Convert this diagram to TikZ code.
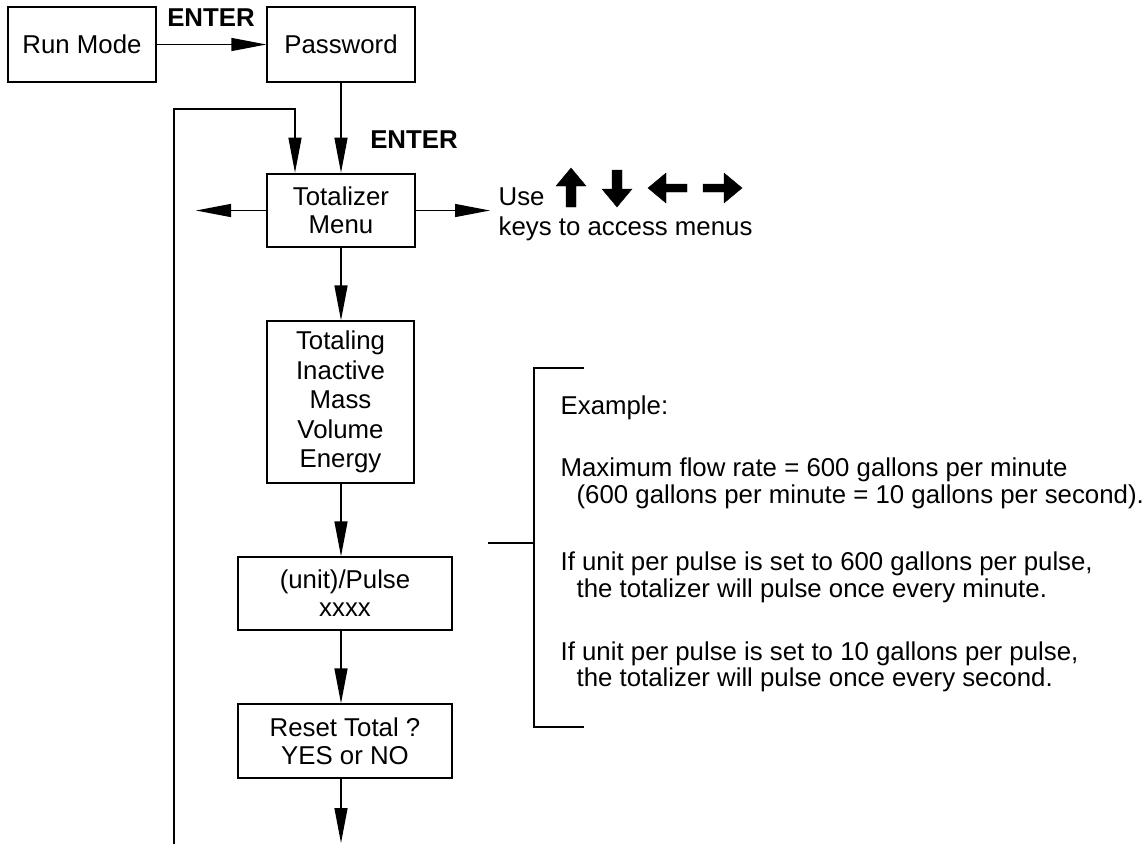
\documentclass[tikz,border=0pt]{standalone}
\usepackage{fontspec}
\setmainfont{Liberation Sans}
\usetikzlibrary{arrows.meta}
\newcommand{\fs}{\fontsize{25.8}{28}\selectfont}
\begin{document}
\begin{tikzpicture}[x=1pt,y=-1pt,line width=1.3pt,
  box/.style={draw,inner sep=0pt,align=center,font=\fs},
  lbl/.style={inner sep=0pt,font=\fs},
  boldlbl/.style={inner sep=0pt,font=\bfseries\fs},
  txt/.style={inner sep=0pt,anchor=base west,font=\fs},
  arr/.style={-{Triangle[length=35pt,width=13pt]}},
  keyarrow/.style={fill=black,draw=black,line width=0.4pt}]
\useasboundingbox (0,0) rectangle (1146,844);

% boxes
\node[box,minimum width=148pt,minimum height=75pt] (run) at (82,44.5) {Run Mode};
\node[box,minimum width=148pt,minimum height=75pt] (pw) at (341,44.5) {Password};
\node[box,line width=2.6pt,minimum width=148pt,minimum height=73pt] (tot) at (341,210.5) {Totalizer\\Menu};
\node[box,minimum width=147pt,minimum height=162pt,font=\fontsize{25.8}{29.5}\selectfont] (mode) at (340.5,402) {Totaling\\Inactive\\Mass\\Volume\\Energy};
\node[box,minimum width=214pt,minimum height=73pt] (unit) at (345,593.5) {(unit)/Pulse\\xxxx};
\node[box,minimum width=214pt,minimum height=74pt] (reset) at (345,741) {Reset Total ?\\YES or NO};

% labels
\node[boldlbl] (e1) at (211,17.5) {ENTER};
\node[boldlbl] (e2) at (414,140) {ENTER};
\node[txt] (use) at (498,205) {Use};
\node[txt] (keys) at (498,235) {keys to access menus};

% free ends
\coordinate (lft) at (196,210.5);
\coordinate (rgt) at (490,210.5);
\coordinate (loopbot) at (174,844);
\coordinate (looptop) at (174,109);
\coordinate (loopin) at (295,109);
\coordinate (endtip) at (341,843);

% connectors
\draw[arr] (run) -- (pw);
\draw[arr] (pw.south) -- (tot.north);
\draw[arr] (loopbot) -- (looptop) -- (loopin) -- (loopin |- tot.north);
\draw[arr] (tot.west) -- (lft);
\draw[arr] (tot.east) -- (rgt);
\draw[arr] (tot.south) -- (tot.south |- mode.north);
\draw[arr] (tot.south |- mode.south) -- (tot.south |- unit.north);
\draw[arr] (tot.south |- unit.south) -- (tot.south |- reset.north);
\draw[arr] (tot.south |- reset.south) -- (endtip);

% key arrows
\filldraw[keyarrow] (571,168) -- (586,186) -- (576,186) -- (576,207) -- (566,207) -- (566,186) -- (556,186) -- cycle;
\filldraw[keyarrow] (617,207) -- (632,189) -- (622,189) -- (622,170) -- (612,170) -- (612,189) -- (602,189) -- cycle;
\filldraw[keyarrow] (648,188) -- (666,173) -- (666,184) -- (687,184) -- (687,192) -- (666,192) -- (666,203) -- cycle;
\filldraw[keyarrow] (742,188) -- (724,173) -- (724,184) -- (703,184) -- (703,192) -- (724,192) -- (724,203) -- cycle;

% bracket
\draw (584,368) -- (534,368) -- (534,727) -- (584,727);
\draw (488,543) -- (534,543);

% example text
\node[txt] (t1) at (560,414) {Example:};
\node[txt] (t2) at (560,476) {Maximum flow rate = 600 gallons per minute};
\node[txt] (t3) at (576,503) {(600 gallons per minute = 10 gallons per second).};
\node[txt] (t4) at (560,570) {If unit per pulse is set to 600 gallons per pulse,};
\node[txt] (t5) at (576,597) {the totalizer will pulse once every minute.};
\node[txt] (t6) at (560,660) {If unit per pulse is set to 10 gallons per pulse,};
\node[txt] (t7) at (576,686) {the totalizer will pulse once every second.};
\end{tikzpicture}
\end{document}
